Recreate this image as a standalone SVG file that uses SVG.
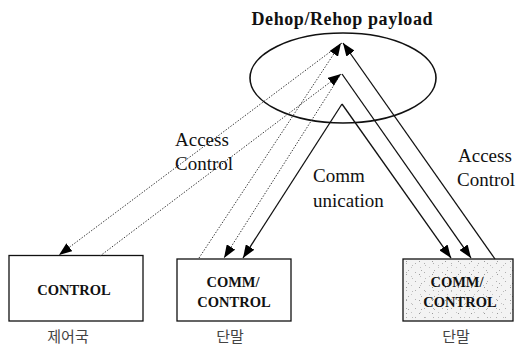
<svg xmlns="http://www.w3.org/2000/svg" width="516" height="350" viewBox="0 0 516 350">
  <style>
    .box { fill: #fff; stroke: #111; stroke-width: 1.3; }
    .lbl { font-family: "Liberation Serif", "Times New Roman", serif; font-size: 19px; fill: #111; }
    .boxtxt { font-family: "Liberation Serif", "Times New Roman", serif; font-size: 14.5px; font-weight: bold; fill: #111; text-anchor: middle; }
    .kr { font-family: "Noto Sans CJK KR", "Noto Sans", sans-serif; font-size: 15px; fill: #444; text-anchor: middle; }
    .solid { fill: none; stroke: #111; stroke-width: 1.3; }
    .dot { fill: none; stroke: #333; stroke-width: 1; stroke-dasharray: 1.4 1.6; }
  </style>
  <defs>
    <marker id="ah" viewBox="0 0 13 10" refX="13" refY="5" markerWidth="13" markerHeight="10" markerUnits="userSpaceOnUse" orient="auto">
      <path d="M0,0 L13,5 L0,10 z" fill="#000"/>
    </marker>
    <!-- speckled grey fill for the shaded terminal -->
    <pattern id="speckA" width="9" height="9" patternUnits="userSpaceOnUse">
      <rect x="1" y="2" width="1" height="1" fill="#b0b0b0"/>
      <rect x="6" y="6" width="1" height="1" fill="#c4c4c4"/>
    </pattern>
    <pattern id="speckB" width="13" height="13" patternUnits="userSpaceOnUse">
      <rect x="3" y="1" width="1" height="1" fill="#9a9a9a"/>
      <rect x="9" y="5" width="1" height="1" fill="#bbb"/>
      <rect x="5" y="10" width="1" height="1" fill="#aaa"/>
    </pattern>
  </defs>

  <rect width="516" height="350" fill="#fff"/>

  <!-- satellite payload -->
  <g id="payload">
    <text x="342" y="25" font-family="Liberation Serif, Times New Roman, serif" font-size="18" font-weight="bold" fill="#111" text-anchor="middle" textLength="181" lengthAdjust="spacing">Dehop/Rehop payload</text>
    <ellipse cx="343" cy="78" rx="93" ry="45" fill="none" stroke="#111" stroke-width="1.6"/>
  </g>

  <!-- control station -->
  <g id="control-station">
    <rect class="box" x="9" y="255.5" width="134" height="65.5"/>
    <text class="boxtxt" x="74" y="295">CONTROL</text>
    <text class="kr" x="68" y="342">제어국</text>
  </g>

  <!-- terminal 1 -->
  <g id="terminal-1">
    <rect class="box" x="177" y="259" width="114" height="62"/>
    <text class="boxtxt" x="233" y="287">COMM/</text>
    <text class="boxtxt" x="234" y="307">CONTROL</text>
    <text class="kr" x="230" y="342">단말</text>
  </g>

  <!-- terminal 2 (shaded) -->
  <g id="terminal-2">
    <rect x="403" y="259" width="110" height="62" fill="#f3f3f3"/>
    <rect x="403" y="259" width="110" height="62" fill="url(#speckA)"/>
    <rect x="403" y="259" width="110" height="62" fill="url(#speckB)"/>
    <rect x="403" y="259" width="110" height="62" fill="none" stroke="#111" stroke-width="1.3"/>
    <text class="boxtxt" x="457" y="287">COMM/</text>
    <text class="boxtxt" x="460" y="307">CONTROL</text>
    <text class="kr" x="456" y="342">단말</text>
  </g>

  <!-- links -->
  <g id="connectors">
    <path class="dot" d="M342,43 L59,255" marker-end="url(#ah)"/>
    <path class="dot" d="M100,256 L341,74" marker-end="url(#ah)"/>
    <path class="dot" d="M199,258 L341,43" marker-end="url(#ah)"/>
    <path class="dot" d="M341,74 L224,258" marker-end="url(#ah)"/>
    <path class="solid" d="M342,104 L243,258" marker-end="url(#ah)"/>
    <path class="solid" d="M342,104 L451,258" marker-end="url(#ah)"/>
    <path class="solid" d="M342,74 L471,258" marker-end="url(#ah)"/>
    <path class="solid" d="M495,259 L343,43" marker-end="url(#ah)"/>
  </g>

  <!-- link labels -->
  <g id="labels">
    <text class="lbl" x="175" y="146">Access</text>
    <text class="lbl" x="175" y="170">Control</text>
    <text class="lbl" x="313" y="182">Comm</text>
    <text class="lbl" x="313" y="207">unication</text>
    <text class="lbl" x="458" y="162">Access</text>
    <text class="lbl" x="457" y="186">Control</text>
  </g>
</svg>
